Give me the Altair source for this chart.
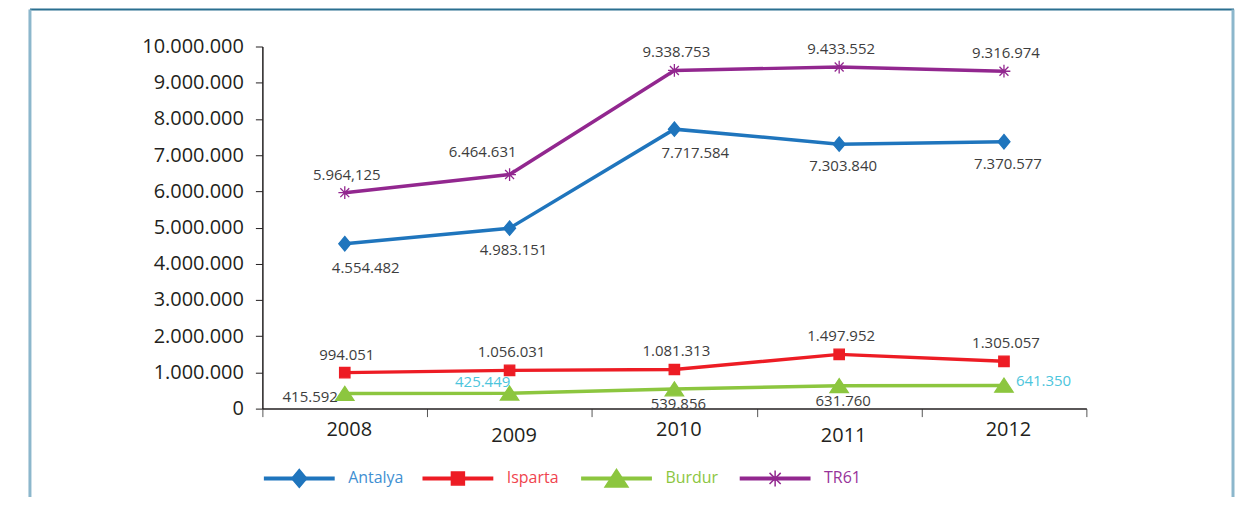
import altair as alt
import pandas as pd

# ---------------- data ----------------
years = ["2008", "2009", "2010", "2011", "2012"]
series = ["Antalya", "Isparta", "Burdur", "TR61"]

antalya = [4554482, 4983151, 7717584, 7303840, 7370577]
isparta = [994051, 1056031, 1081313, 1497952, 1305057]
burdur = [415592, 425449, 539856, 631760, 641350]
tr61 = [5964125, 6464631, 9338753, 9433552, 9316974]

antalya_labels = ["4.554.482", "4.983.151", "7.717.584", "7.303.840", "7.370.577"]
isparta_labels = ["994.051", "1.056.031", "1.081.313", "1.497.952", "1.305.057"]
burdur_labels = ["415.592", "425.449", "539.856", "631.760", "641.350"]
tr61_labels = ["5.964,125", "6.464.631", "9.338.753", "9.433.552", "9.316.974"]

# where each value label sits relative to its point (category names only)
antalya_place = ["below_right", "below", "below_right", "below", "below"]
isparta_place = ["above", "above", "above", "above", "above"]
burdur_place = ["left", "above_left_low", "below_tight", "below_tight", "right"]
tr61_place = ["above", "above_left", "above", "above", "above"]

antalya_tone = ["dark"] * 5
isparta_tone = ["dark"] * 5
burdur_tone = ["dark", "cyan", "dark", "dark", "cyan"]
tr61_tone = ["dark"] * 5

y_ticks = [0, 1000000, 2000000, 3000000, 4000000, 5000000,
           6000000, 7000000, 8000000, 9000000, 10000000]

# ---------------- styles ----------------
line_colors = ["#1f75bd", "#ed1c24", "#8cc63f", "#92278f"]
legend_text_colors = ["#3f8fd2", "#f0444e", "#8cc63f", "#97339a"]
shapes = [
    "M0,-0.9L0.75,0L0,0.9L-0.75,0Z",                 # diamond
    "M-0.65,-0.65L0.65,-0.65L0.65,0.65L-0.65,0.65Z",  # square
    "M0,-0.9L1.15,0.85L-1.15,0.85Z",                  # triangle
    "M-0.8,0L0.8,0M0,-0.8L0,0.8M-0.56,-0.56L0.56,0.56M-0.56,0.56L0.56,-0.56",  # asterisk
]
placements = {
    "above": dict(dx=2, dy=-18, align="center"),
    "below": dict(dx=4, dy=22, align="center"),
    "below_right": dict(dx=21, dy=24, align="center"),
    "below_tight": dict(dx=4, dy=15, align="center"),
    "left": dict(dx=-7, dy=3, align="right"),
    "right": dict(dx=12, dy=-4, align="left"),
    "above_left": dict(dx=-27, dy=-23, align="center"),
    "above_left_low": dict(dx=-27, dy=-11, align="center"),
}
FONT = "Open Sans"

# ---------------- table ----------------
rows = []
for name, vals, labs, places, tones in [
    ("Antalya", antalya, antalya_labels, antalya_place, antalya_tone),
    ("Isparta", isparta, isparta_labels, isparta_place, isparta_tone),
    ("Burdur", burdur, burdur_labels, burdur_place, burdur_tone),
    ("TR61", tr61, tr61_labels, tr61_place, tr61_tone),
]:
    for yr, v, lab, pl, tn in zip(years, vals, labs, places, tones):
        rows.append(dict(series=name, year=yr, value=v, label=lab, place=pl, tone=tn))
df = pd.DataFrame(rows)
legend_df = pd.DataFrame({"series": series})

color_scale = alt.Scale(domain=series, range=line_colors)
shape_scale = alt.Scale(domain=series, range=shapes)

x_enc = alt.X(
    "year:O",
    title=None,
    sort=years,
    scale=alt.Scale(paddingInner=0, paddingOuter=0),
    axis=alt.Axis(
        labelAngle=0, tickBand="extent", tickSize=8, tickColor="#555555",
        domainColor="#231f20", domainWidth=1.5,
        labelPadding={"condition": {"test": "datum.value == '2009' || datum.value == '2011'",
                                    "value": 9}, "value": 3},
        labelOffset=4,
        labelFont=FONT, labelFontSize=20, labelColor="#231f20",
    ),
)
y_enc = alt.Y(
    "value:Q",
    title=None,
    scale=alt.Scale(domain=[0, 10000000], nice=False, zero=True),
    axis=alt.Axis(
        values=y_ticks, format=",d", grid=False, tickSize=7, tickColor="#231f20",
        domainColor="#231f20", domainWidth=1.5, labelPadding=12,
        labelFont=FONT, labelFontSize=20, labelColor="#231f20",
    ),
)

base = alt.Chart(df).encode(x=x_enc, y=y_enc)

lines = base.mark_line(strokeWidth=3.5).encode(
    color=alt.Color("series:N", scale=color_scale, legend=None),
    order=alt.Order("year:O"),
)
points = base.mark_point(filled=True, opacity=1, size=256, strokeWidth=1.3).encode(
    shape=alt.Shape("series:N", scale=shape_scale, legend=None),
    color=alt.Color("series:N", scale=color_scale, legend=None),
    stroke=alt.Stroke("series:N", scale=alt.Scale(domain=series, range=line_colors), legend=None),
)

text_layers = []
for pl, st in placements.items():
    text_layers.append(
        base.transform_filter(alt.datum.place == pl)
        .mark_text(font=FONT, fontSize=15, baseline="middle", **st)
        .encode(
            text="label:N",
            color=alt.condition(alt.datum.tone == "cyan",
                                alt.value("#4cc5dc"), alt.value("#3d3d3d")),
        )
    )

main = alt.layer(lines, points, *text_layers)

# ---------------- legend (drawn as marks) ----------------
leg_base = alt.Chart(legend_df).encode(
    x=alt.X("series:N", sort=series, title=None, axis=None,
            scale=alt.Scale(type="point", domain=series, range=[37, 514], padding=0)),
    y=alt.value(433),
)
leg_line = leg_base.mark_point(shape="M-1,0L1,0", size=5041, strokeWidth=4,
                               filled=False, opacity=1).encode(
    color=alt.Color("series:N", scale=color_scale, legend=None),
)
leg_mark = leg_base.mark_point(filled=True, opacity=1, size=400, strokeWidth=1.5).encode(
    shape=alt.Shape("series:N", scale=shape_scale, legend=None),
    color=alt.Color("series:N", scale=color_scale, legend=None),
    stroke=alt.Stroke("series:N", scale=alt.Scale(domain=series, range=line_colors), legend=None),
)
leg_text = leg_base.mark_text(align="left", baseline="middle", dx=49, font=FONT, fontSize=16).encode(
    text="series:N",
    fill=alt.Fill("series:N", scale=alt.Scale(domain=series, range=legend_text_colors), legend=None),
)
legend = alt.layer(leg_line, leg_mark, leg_text)

# ---------------- frame ----------------
frame_src = alt.Chart(pd.DataFrame({"k": [0]}))
frame_top = frame_src.mark_rule(color="#2a6f90", strokeWidth=2).encode(
    x=alt.value(-233), x2=alt.value(974), y=alt.value(-37))
frame_left = frame_src.mark_rule(color="#8cb7cc", strokeWidth=3).encode(
    x=alt.value(-233), y=alt.value(-37), y2=alt.value(470))
frame_right = frame_src.mark_rule(color="#8cb7cc", strokeWidth=3).encode(
    x=alt.value(973), y=alt.value(-37), y2=alt.value(470))
frame = alt.layer(frame_top, frame_left, frame_right)

chart = (
    alt.layer(main, legend, frame)
    .resolve_scale(x="independent")
    .properties(
        width=826, height=363,
        autosize=alt.AutoSizeParams(type="none"),
        padding={"left": 255, "top": 38, "right": 150, "bottom": 88},
        background="white",
    )
    .configure(locale=alt.Locale(number=alt.NumberLocale(
        decimal=",", thousands=".", grouping=[3], currency=["", ""])))
    .configure_view(stroke=None)
)

chart.save("out.html", embed_options={"renderer": "svg", "actions": False})
